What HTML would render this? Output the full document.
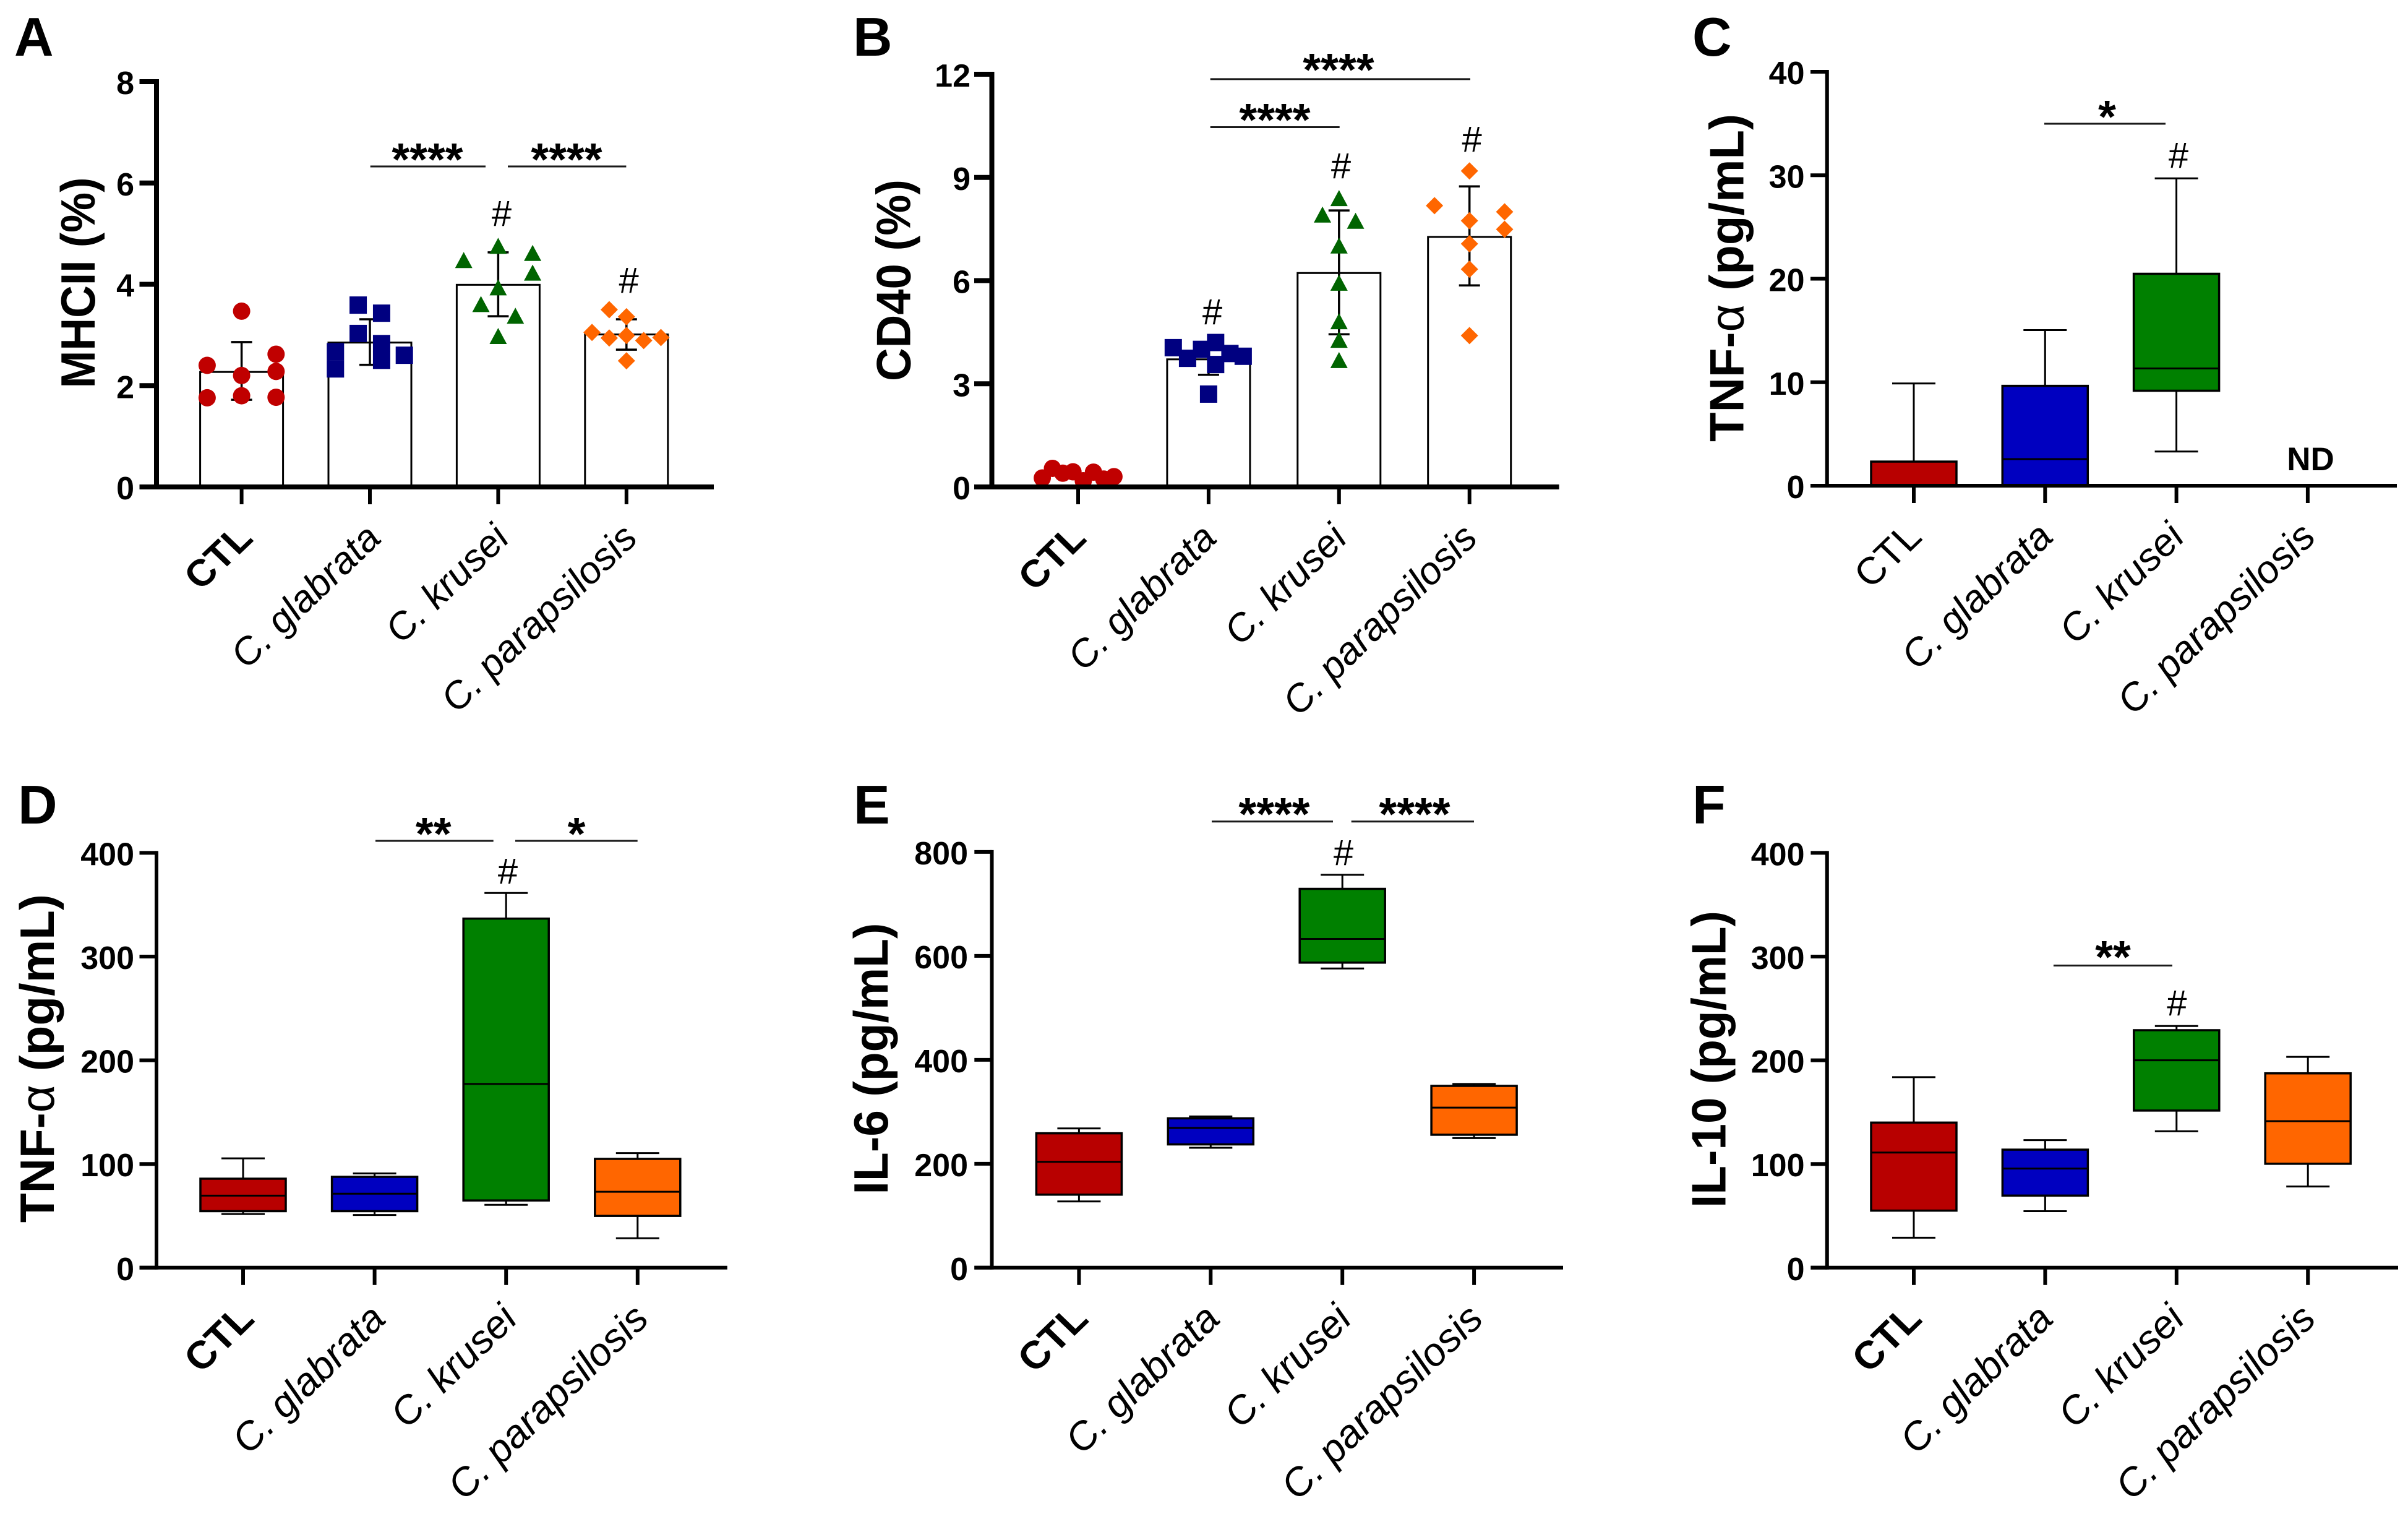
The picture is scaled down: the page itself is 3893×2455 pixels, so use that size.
<!DOCTYPE html>
<html lang="en">
<head>
<meta charset="utf-8">
<title>Cytokine and surface marker panels</title>
<style>
html,body{margin:0;padding:0;background:#fff;}
svg{display:block;font-family:"Liberation Sans",Arial,sans-serif;}
.letter{font-size:88px;font-weight:700;fill:#000;}
.ytitle{font-size:78px;font-weight:700;fill:#000;text-anchor:middle;}
.star{font-size:74px;font-weight:700;fill:#000;text-anchor:middle;}
.hash{font-size:58px;fill:#000;text-anchor:middle;}
.nd{font-size:53px;font-weight:700;fill:#000;text-anchor:middle;}
.sig{stroke:#1a1a1a;stroke-width:3;}
</style>
</head>
<body>
<svg id="figure" xmlns="http://www.w3.org/2000/svg" width="3893" height="2455" viewBox="0 0 3893 2455">
<rect width="3893" height="2455" fill="#fff"/>

<g id="panel-a"></g>
<g id="panel-b"></g>
<g id="panel-c"></g>
<g id="panel-d"></g>
<g id="panel-e"></g>
<g id="panel-f"></g>

<g id="annotations">
  <text class="letter" x="23" y="90">A</text>
  <text class="letter" x="1379" y="90">B</text>
  <text class="letter" x="2736" y="90">C</text>
  <text class="letter" x="29" y="1331">D</text>
  <text class="letter" x="1380" y="1331">E</text>
  <text class="letter" x="2736" y="1331">F</text>

  <text class="ytitle" transform="translate(153,457) rotate(-90)" textLength="341" lengthAdjust="spacingAndGlyphs">MHCII (%)</text>
  <text class="ytitle" transform="translate(1471.6,453) rotate(-90)" textLength="326" lengthAdjust="spacingAndGlyphs">CD40 (%)</text>
  <text class="ytitle" transform="translate(2818.5,449) rotate(-90)" textLength="530" lengthAdjust="spacingAndGlyphs">TNF-<tspan font-weight="400">α</tspan> (pg/mL)</text>
  <text class="ytitle" transform="translate(87,1710.6) rotate(-90)" textLength="531" lengthAdjust="spacingAndGlyphs">TNF-<tspan font-weight="400">α</tspan> (pg/mL)</text>
  <text class="ytitle" transform="translate(1435,1711) rotate(-90)" textLength="439" lengthAdjust="spacingAndGlyphs">IL-6 (pg/mL)</text>
  <text class="ytitle" transform="translate(2789.6,1712) rotate(-90)" textLength="480" lengthAdjust="spacingAndGlyphs">IL-10 (pg/mL)</text>

  <!-- A -->
  <line class="sig" x1="598.7" x2="785" y1="269" y2="269"/>
  <text class="star" x="691" y="283">****</text>
  <line class="sig" x1="821" x2="1012.4" y1="269" y2="269"/>
  <text class="star" x="916" y="283">****</text>
  <text class="hash" x="811" y="365">#</text>
  <text class="hash" x="1016.6" y="473">#</text>

  <!-- B -->
  <line class="sig" x1="1956.7" x2="2377" y1="127.9" y2="127.9"/>
  <text class="star" x="2164" y="138">****</text>
  <line class="sig" x1="1956.7" x2="2165.7" y1="205.5" y2="205.5"/>
  <text class="star" x="2061" y="219">****</text>
  <text class="hash" x="1960" y="524">#</text>
  <text class="hash" x="2168" y="288">#</text>
  <text class="hash" x="2379.6" y="245">#</text>

  <!-- C -->
  <line class="sig" x1="3305" x2="3501" y1="200" y2="200"/>
  <text class="star" x="3406.5" y="214">*</text>
  <text class="hash" x="3522" y="271">#</text>
  <text class="nd" x="3735.5" y="760">ND</text>

  <!-- D -->
  <line class="sig" x1="607" x2="797.7" y1="1359" y2="1359"/>
  <text class="star" x="700.7" y="1373">**</text>
  <line class="sig" x1="833" x2="1030.7" y1="1359" y2="1359"/>
  <text class="star" x="932" y="1373">*</text>
  <text class="hash" x="821" y="1428">#</text>

  <!-- E -->
  <line class="sig" x1="1959" x2="2155" y1="1327.7" y2="1327.7"/>
  <text class="star" x="2060" y="1341">****</text>
  <line class="sig" x1="2184.7" x2="2383" y1="1327.7" y2="1327.7"/>
  <text class="star" x="2287" y="1341">****</text>
  <text class="hash" x="2172" y="1398">#</text>

  <!-- F -->
  <line class="sig" x1="3319.9" x2="3512" y1="1560.5" y2="1560.5"/>
  <text class="star" x="3416" y="1572">**</text>
  <text class="hash" x="3519.4" y="1641">#</text>
</g>
</svg>

<script>
/* ---------- shared categories ---------- */
const categories = ['CTL', 'C. glabrata', 'C. krusei', 'C. parapsilosis'];

/* ---------- panel A values ---------- */
const aTicks = [0, 2, 4, 6, 8];
const aMeans = [2.27, 2.85, 3.99, 3.01];
const aErrHigh = [2.86, 3.31, 4.63, 3.31];
const aErrLow = [1.72, 2.41, 3.37, 2.71];
const aCtlValues = [3.47, 2.40, 2.62, 2.28, 2.20, 1.76, 1.80, 1.77];
const aCtlSlots = [0, -2, 2, 2, 0, -2, 0, 2];
const aGlabrataValues = [3.59, 3.43, 3.03, 2.83, 2.50, 2.67, 2.33, 2.60];
const aGlabrataSlots = [-0.68, 0.68, -0.68, 0.68, 0.68, -2, -2, 2];
const aKruseiValues = [4.76, 4.62, 4.48, 4.23, 3.94, 3.61, 3.38, 2.98];
const aKruseiSlots = [0, 2, -2, 2, 0, -1, 1, 0];
const aParapsilosisValues = [3.50, 3.36, 3.05, 2.99, 2.94, 2.89, 2.95, 2.49];
const aParapsilosisSlots = [-1, 0, -2, 0, -1, 1, 2, 0];

/* ---------- panel B values ---------- */
const bTicks = [0, 3, 6, 9, 12];
const bMeans = [0.33, 3.71, 6.22, 7.27];
const bErrHigh = [0.42, 4.16, 8.04, 8.74];
const bErrLow = [0.24, 3.26, 4.44, 5.86];
const bCtlValues = [0.26, 0.54, 0.40, 0.44, 0.18, 0.43, 0.23, 0.30];
const bCtlSlots = [-2.08, -1.49, -0.89, -0.30, 0.30, 0.89, 1.49, 2.08];
const bGlabrataValues = [4.05, 3.74, 4.00, 4.20, 3.56, 3.88, 3.80, 2.70];
const bGlabrataSlots = [-2.05, -1.22, -0.41, 0.41, 0.41, 1.24, 2.01, 0];
const bKruseiValues = [8.40, 7.92, 7.74, 7.02, 5.94, 4.82, 4.28, 3.69];
const bKruseiSlots = [0, -0.96, 0.96, 0, 0, 0, 0, 0];
const bParapsilosisValues = [9.19, 8.18, 8.00, 7.74, 7.49, 7.07, 6.33, 4.40];
const bParapsilosisSlots = [0, -2.03, 2.04, 0, 2.04, 0, 0, 0];

/* ---------- panel C values ---------- */
const cTicks = [0, 10, 20, 30, 40];
const cMin = [0, 0, 3.3, null];
const cQ1 = [0, 0, 9.18, null];
const cMedian = [0, 2.57, 11.33, null];
const cQ3 = [2.33, 9.65, 20.48, null];
const cMax = [9.88, 15.04, 29.7, null];

/* ---------- panel D values ---------- */
const dTicks = [0, 100, 200, 300, 400];
const dMin = [51.7, 50.8, 60.6, 28.4];
const dQ1 = [54.5, 54.5, 64.8, 49.9];
const dMedian = [69.5, 71.3, 177.2, 73.2];
const dQ3 = [85.8, 87.6, 336.6, 104.9];
const dMax = [105.4, 90.9, 361.3, 110.5];

/* ---------- panel E values ---------- */
const eTicks = [0, 200, 400, 600, 800];
const eMin = [127.4, 230.7, 575.8, 249.3];
const eQ1 = [140.5, 237.2, 587, 255.8];
const eMedian = [203.7, 268.8, 632.6, 308];
const eQ3 = [258.6, 287.4, 729, 349.8];
const eMax = [267.9, 291, 756, 353.5];

/* ---------- panel F values ---------- */
const fTicks = [0, 100, 200, 300, 400];
const fMin = [28.9, 54.5, 131.5, 78.3];
const fQ1 = [55, 69.5, 151.5, 100.2];
const fMedian = [111, 95.6, 200, 141.3];
const fQ3 = [139.9, 113.8, 229, 187.4];
const fMax = [183.7, 123, 233, 203.3];

/* ---------- drawing helpers ---------- */
const NS = 'http://www.w3.org/2000/svg';
const SLOT_PX = 27.85;
const MARK_HALF = 14;
const boxColors = ['#b80000', '#0000c0', '#008000', '#ff6600'];
const pointColors = ['#c00000', '#000080', '#006400', '#ff6600'];

function mk(parent, tag, attrs) {
  const el = document.createElementNS(NS, tag);
  for (const k in attrs) el.setAttribute(k, attrs[k]);
  parent.appendChild(el);
  return el;
}

function makeAxes(frame, tickValues, ctlBold) {
  const g = document.getElementById(frame.id);
  const yScale = function (v) { return frame.y0 - (v / tickValues[tickValues.length - 1]) * (frame.y0 - frame.yTop); };
  const xScale = function (i) { return frame.x0 + frame.step * i; };
  return { g: g, yScale: yScale, xScale: xScale, frame: frame, tickValues: tickValues, ctlBold: ctlBold };
}

function drawAxisLines(ax) {
  const f = ax.frame;
  const yLine = mk(ax.g, 'line', { x1: f.axisX, x2: f.axisX, y1: f.yTop - f.w / 2, y2: f.y0 + f.w / 2, stroke: '#000', 'stroke-width': f.w });
  
  
  const xLine = mk(ax.g, 'line', { x1: f.left, x2: f.right, y1: f.y0, y2: f.y0, stroke: '#000', 'stroke-width': f.w });
  
  
  ax.tickValues.forEach(function (v) {
    const y = ax.yScale(v);
    const tick = mk(ax.g, 'line', { x1: f.left, x2: f.axisX, y1: y, y2: y, stroke: '#000', 'stroke-width': f.w });
    
    
    const label = mk(ax.g, 'text', { x: f.labelX, y: y + 20, 'text-anchor': 'end', 'font-size': 52, 'font-weight': 700, fill: '#000' });
    label.textContent = String(v);
    
    
  });
  categories.forEach(function (name, i) {
    const x = ax.xScale(i);
    const tick = mk(ax.g, 'line', { x1: x, x2: x, y1: f.y0, y2: f.y0 + 28, stroke: '#000', 'stroke-width': 6 });
    
    
    const bold = i === 0 && ax.ctlBold;
    const label = mk(ax.g, 'text', {
      transform: 'translate(' + (x + f.labelDx) + ',' + (f.y0 + 86) + ') scale(' + f.labelSx + ',' + f.labelSy + ') rotate(-45)',
      'text-anchor': 'end', 'font-size': 60, fill: '#000',
      'font-weight': bold ? 700 : 400,
      'font-style': i === 0 ? 'normal' : 'italic'
    });
    label.textContent = name;
    
    
  });
}

function drawBar(ax, i, mean, hi, lo) {
  const x = ax.xScale(i), half = 67;
  const bar = mk(ax.g, 'rect', { x: x - half, y: ax.yScale(mean), width: half * 2, height: ax.frame.y0 - ax.yScale(mean), fill: '#fff', stroke: '#000', 'stroke-width': 3 });
  
  
  const stem = mk(ax.g, 'line', { x1: x, x2: x, y1: ax.yScale(hi), y2: ax.yScale(lo), stroke: '#000', 'stroke-width': 3.5 });
  
  
  [hi, lo].forEach(function (v) {
    const cap = mk(ax.g, 'line', { x1: x - 17, x2: x + 17, y1: ax.yScale(v), y2: ax.yScale(v), stroke: '#000', 'stroke-width': 3.5 });
    
    
  });
}

function drawPoints(ax, i, values, slots) {
  const color = pointColors[i], xc = ax.xScale(i);
  values.forEach(function (v, k) {
    const x = xc + slots[k] * SLOT_PX, y = ax.yScale(v), h = MARK_HALF;
    let mark;
    if (i === 0) {
      mark = mk(ax.g, 'circle', { cx: x, cy: y, r: h, fill: color });
    } else if (i === 1) {
      mark = mk(ax.g, 'rect', { x: x - h, y: y - h, width: h * 2, height: h * 2, fill: color });
    } else if (i === 2) {
      mark = mk(ax.g, 'polygon', { points: [x, y - 13, x + h, y + 13, x - h, y + 13].join(' '), fill: color });
    } else {
      mark = mk(ax.g, 'polygon', { points: [x, y - h, x + h, y, x, y + h, x - h, y].join(' '), fill: color });
    }
    
    
  });
}

function drawBox(ax, i, min, q1, med, q3, max) {
  if (min === null) return;
  const x = ax.xScale(i), half = 69, capHalf = 35, y = ax.yScale;
  const whisker = mk(ax.g, 'path', {
    d: 'M' + x + ' ' + y(max) + 'V' + y(q3) + 'M' + x + ' ' + y(q1) + 'V' + y(min) +
       'M' + (x - capHalf) + ' ' + y(max) + 'H' + (x + capHalf) +
       'M' + (x - capHalf) + ' ' + y(min) + 'H' + (x + capHalf),
    stroke: '#000', 'stroke-width': 3, fill: 'none'
  });
  
  
  const box = mk(ax.g, 'rect', { x: x - half, y: y(q3), width: half * 2, height: y(q1) - y(q3), fill: boxColors[i], stroke: '#000', 'stroke-width': 3.5 });
  
  
  const median = mk(ax.g, 'line', { x1: x - half, x2: x + half, y1: y(med), y2: y(med), stroke: '#000', 'stroke-width': 3 });
  
  
}

function barPanel(frame, ticks, ctlBold, means, hi, lo, groups, slots) {
  const ax = makeAxes(frame, ticks, ctlBold);
  categories.forEach(function (_, i) {
    if (i > 0) drawBar(ax, i, means[i], hi[i], lo[i]);
    else if (means[i] > 1) drawBar(ax, i, means[i], hi[i], lo[i]);
  });
  categories.forEach(function (_, i) { drawPoints(ax, i, groups[i], slots[i]); });
  drawAxisLines(ax);
}

function boxPanel(frame, ticks, ctlBold, min, q1, med, q3, max) {
  const ax = makeAxes(frame, ticks, ctlBold);
  categories.forEach(function (_, i) { drawBox(ax, i, min[i], q1[i], med[i], q3[i], max[i]); });
  drawAxisLines(ax);
}

/* ---------- render ---------- */
barPanel({ id: 'panel-a', axisX: 253, y0: 787, yTop: 132, left: 225.5, right: 1154, x0: 390.6, step: 207.4, labelX: 217, w: 8, labelDx: 21, labelSx: 1.06, labelSy: 1.01 },
  aTicks, true, aMeans, aErrHigh, aErrLow,
  [aCtlValues, aGlabrataValues, aKruseiValues, aParapsilosisValues],
  [aCtlSlots, aGlabrataSlots, aKruseiSlots, aParapsilosisSlots]);

barPanel({ id: 'panel-b', axisX: 1603.5, y0: 787, yTop: 120, left: 1575, right: 2520.6, x0: 1743, step: 210.9, labelX: 1569, w: 8, labelDx: 16, labelSx: 1.05, labelSy: 1.03 },
  bTicks, true, bMeans, bErrHigh, bErrLow,
  [bCtlValues, bGlabrataValues, bKruseiValues, bParapsilosisValues],
  [bCtlSlots, bGlabrataSlots, bKruseiSlots, bParapsilosisSlots]);

boxPanel({ id: 'panel-c', axisX: 2953.8, y0: 785, yTop: 116, left: 2927, right: 3875, x0: 3094, step: 212.3, labelX: 2917.5, w: 6, labelDx: 16, labelSx: 1.07, labelSy: 1.03 },
  cTicks, false, cMin, cQ1, cMedian, cQ3, cMax);

boxPanel({ id: 'panel-d', axisX: 253, y0: 2048.8, yTop: 1378.4, left: 225.5, right: 1175.8, x0: 393, step: 212.6, labelX: 217, w: 6, labelDx: 21, labelSx: 1.083, labelSy: 1.05 },
  dTicks, true, dMin, dQ1, dMedian, dQ3, dMax);

boxPanel({ id: 'panel-e', axisX: 1603.5, y0: 2048.8, yTop: 1376.9, left: 1575.3, right: 2527, x0: 1744.4, step: 212.9, labelX: 1565, w: 6, labelDx: 18, labelSx: 1.09, labelSy: 1.05 },
  eTicks, true, eMin, eQ1, eMedian, eQ3, eMax);

boxPanel({ id: 'panel-f', axisX: 2953.8, y0: 2048.8, yTop: 1378.4, left: 2927.4, right: 3877, x0: 3094, step: 212.4, labelX: 2917.5, w: 6, labelDx: 16, labelSx: 1.08, labelSy: 1.05 },
  fTicks, true, fMin, fQ1, fMedian, fQ3, fMax);
</script>
</body>
</html>
